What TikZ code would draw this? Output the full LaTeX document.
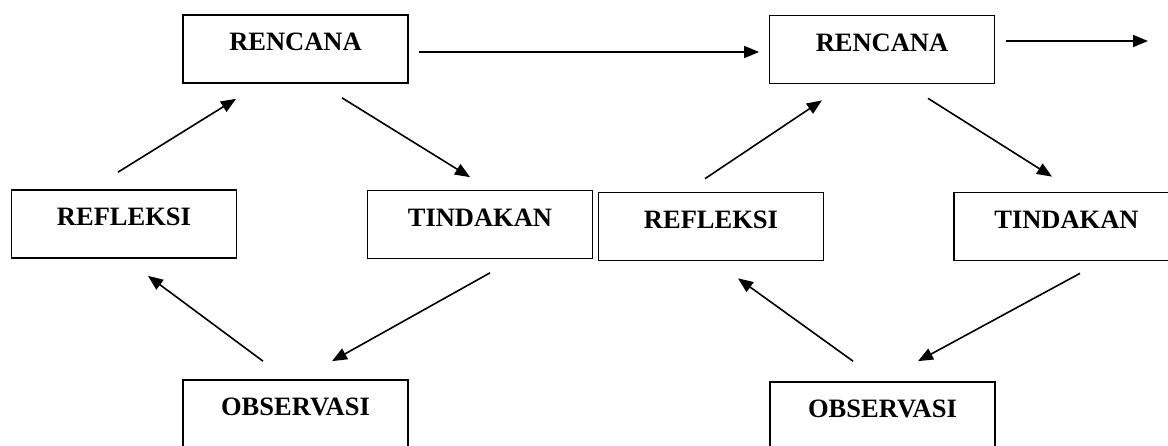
\documentclass[tikz,border=0pt]{standalone}
\usepackage{fontspec}
\setmainfont{Liberation Serif}
\usetikzlibrary{arrows.meta}

\tikzset{
  box/.style={draw, line width=1.7pt, minimum width=225pt, inner xsep=0pt, inner ysep=18.5pt,
    text height=17pt, text depth=14pt, font=\fontsize{26.5}{30}\selectfont\bfseries},
  arr/.style={line width=1.6pt, -{Triangle[length=15pt,width=12pt]}}
}

\begin{document}
\begin{tikzpicture}[x=1pt,y=-1pt]
\clip (0,0) rectangle (1168,445);
% first cycle
\node[box] (ren1) at (295.5,49) {RENCANA};
\node[box] (ref1) at (124,224) {REFLEKSI};
\node[box] (tin1) at (480,224.5) {TINDAKAN};
\node[box] (obs1) at (295.5,414) {OBSERVASI};
% second cycle
\node[box] (ren2) at (882,49.5) {RENCANA};
\node[box] (ref2) at (711,226.5) {REFLEKSI};
\node[box] (tin2) at (1066.5,226.5) {TINDAKAN};
\node[box] (obs2) at (882.5,416) {OBSERVASI};
\coordinate (next) at (1148,41);

\draw[arr] ([shift={(-6,-17)}]ref1.north) -- ([shift={(-59.5,15)}]ren1.south);
\draw[arr] ([shift={(46.5,14)}]ren1.south) -- ([shift={(-10,-12.5)}]tin1.north);
\draw[arr] ([shift={(10,13.5)}]tin1.south) -- ([shift={(36.5,-18)}]obs1.north);
\draw[arr] ([shift={(-32.5,-18)}]obs1.north) -- ([shift={(24,17)}]ref1.south);

\draw[arr] ([shift={(-6,-13)}]ref2.north) -- ([shift={(-60,16)}]ren2.south);
\draw[arr] ([shift={(46,14)}]ren2.south) -- ([shift={(-14.5,-15)}]tin2.north);
\draw[arr] ([shift={(13.5,12)}]tin2.south) -- ([shift={(35.5,-20)}]obs2.north);
\draw[arr] ([shift={(-29.5,-20)}]obs2.north) -- ([shift={(27,17)}]ref2.south);

\draw[arr] ([shift={(10,3)}]ren1.east) -- ([shift={(-9.5,2.5)}]ren2.west);
\draw[arr] ([shift={(10.5,-8.5)}]ren2.east) -- (next);
\end{tikzpicture}
\end{document}
